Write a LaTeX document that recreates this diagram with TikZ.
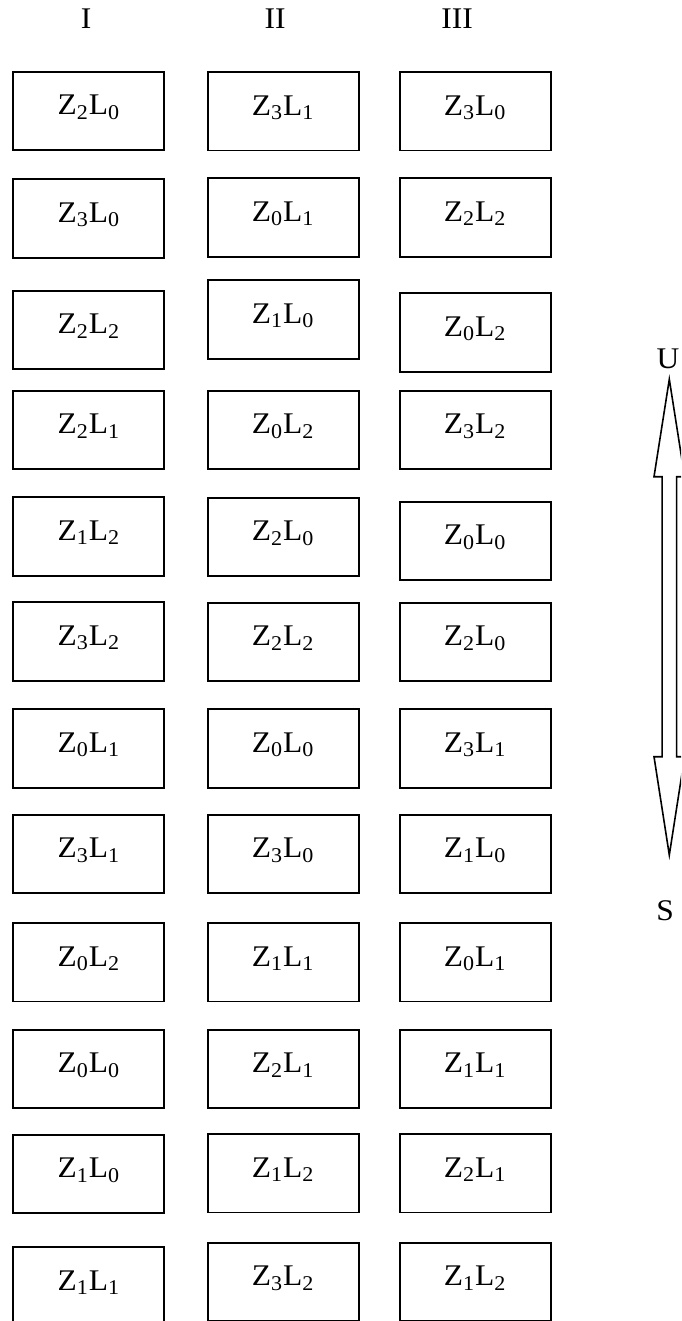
\documentclass[tikz,border=0pt]{standalone}
\usepackage{fontspec}
\setmainfont[FakeStretch=1.05]{Liberation Serif}
\newcommand{\zl}[2]{Z\textsubscript{#1}L\textsubscript{#2}}

\begin{document}
\begin{tikzpicture}[
        x=0.5pt, y=-0.5pt,
        cell/.style={draw, line width=0.9pt, minimum width=75.5pt, minimum height=39.25pt,
            inner sep=0pt, text height=10.5pt, text depth=6.7pt},
        head/.style={inner sep=0pt},
        every node/.style={font=\fontsize{15}{18}\selectfont}
    ]
    \useasboundingbox (0,0) rectangle (681,1321);
    \clip (0,0) rectangle (681,1321);
    % column heads
    \node [head] (hI) at (86,19) {I};
    \node [head] (hII) at (275,19) {II};
    \node [head] (hIII) at (457,19) {III};
    % column I
    \foreach \zi/\li/\y [count=\i] in {2/0/111.0, 3/0/218.6, 2/2/330.0, 2/1/430.0,
            1/2/536.6, 3/2/641.6, 0/1/748.6, 3/1/854.0,
            0/2/962.3, 0/0/1069.0, 1/0/1174.0, 1/1/1286.3}
        \node [cell] (a\i) at (88.8,\y) {\zl{\zi}{\li}};
    % column II
    \foreach \zi/\li/\y [count=\i] in {3/1/111.3, 0/1/217.6, 1/0/319.6, 0/2/430.0,
            2/0/537.0, 2/2/642.0, 0/0/748.6, 3/0/854.0,
            1/1/962.3, 2/1/1069.0, 1/2/1173.3, 3/2/1282.0}
        \node [cell] (b\i) at (283.2,\y) {\zl{\zi}{\li}};
    % column III
    \foreach \zi/\li/\y [count=\i] in {3/0/111.3, 2/2/217.6, 0/2/332.6, 3/2/430.0,
            0/0/541.0, 2/0/642.0, 3/1/748.6, 1/0/854.0,
            0/1/962.3, 1/1/1069.0, 2/1/1173.3, 1/2/1282.0}
        \node [cell] (c\i) at (475.2,\y) {\zl{\zi}{\li}};
    % up/down arrow
    \node [head] (up) at (668,359) {U};
    \node [head] (down) at (665,911) {S};
    \draw [line width=0.8pt, line join=miter]
        (669.3,379.3) -- (684.6,476.7) -- (676.6,476.7) -- (676.6,756.7)
        -- (684.6,756.7) -- (669.3,855) -- (654,756.7) -- (662.1,756.7)
        -- (662.1,476.7) -- (654,476.7) -- cycle;
\end{tikzpicture}
\end{document}
